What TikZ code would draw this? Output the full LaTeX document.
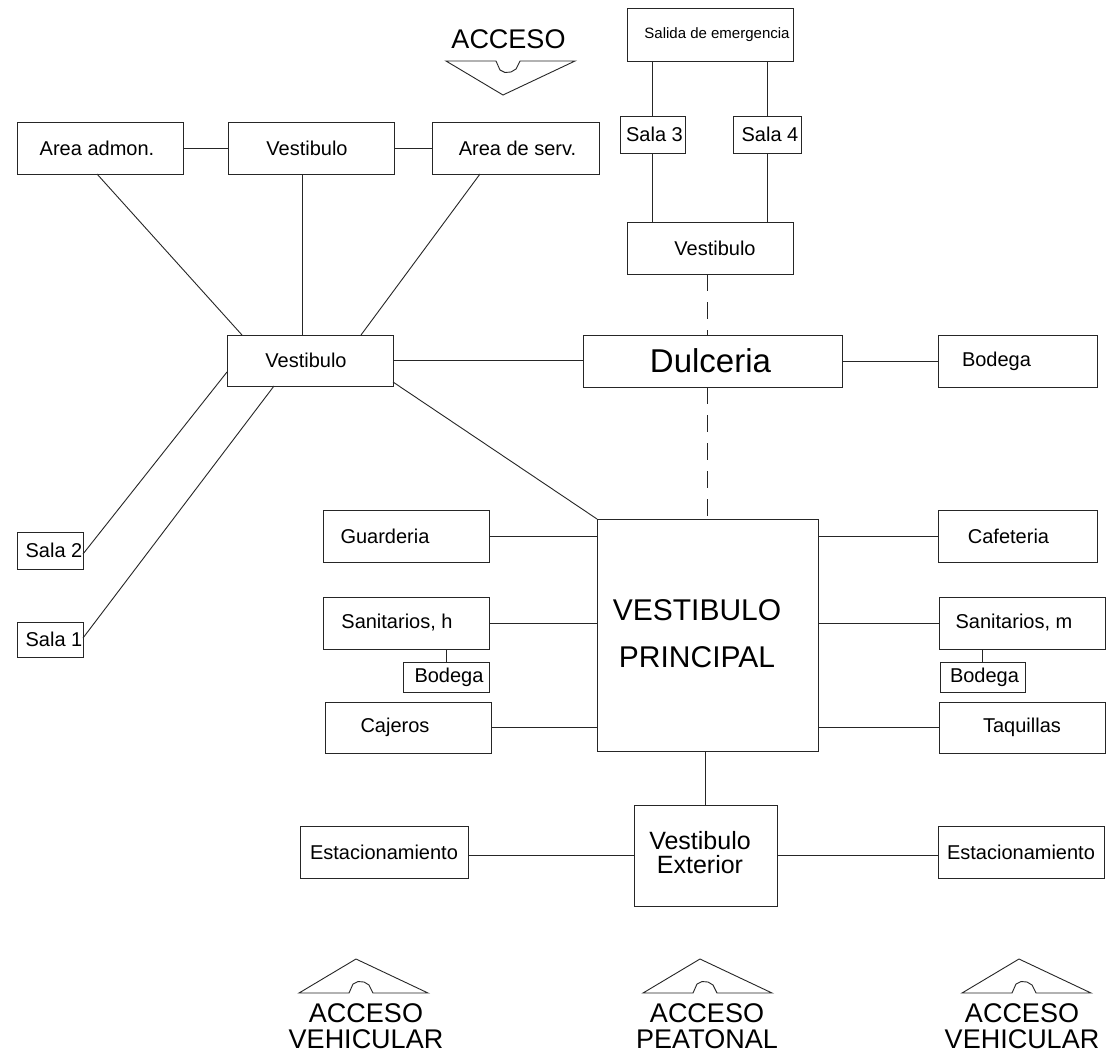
\documentclass[tikz,border=0pt]{standalone}
\usepackage{fontspec}
\setmainfont{Liberation Sans}

\tikzset{
  box/.style={draw=black!85, line width=0.9pt, fill=white, inner sep=0pt, outer sep=0pt,
    font=\fontsize{20}{24}\selectfont, minimum width=166pt, minimum height=52pt},
  % horizontal nudge of a box's text by #1
  tx/.style={execute at begin node={\hspace*{#1}\hspace*{#1}}},
  link/.style={draw=black!85, line width=0.9pt},
  dlink/.style={link, dash pattern=on 17pt off 11pt},
  bigtext/.style={font=\fontsize{27}{26}\selectfont, inner sep=0pt},
  % access symbol: a roof with a small arch in its base
  accesomark/.pic={
    \draw[link, line join=miter] (0,0) -- (50,0) -- (54,-9) -- (59,-11.5) -- (65,-11)
      -- (70,-8) -- (74,0) -- (129,0) -- (57,-34) -- cycle;
  }
}

\begin{document}
\begin{tikzpicture}[x=1pt, y=-1pt]
\fill[white] (0,0) rectangle (1114,1061);
\useasboundingbox (0,0) rectangle (1114,1061);

% upper right wing
\node[box, minimum height=53pt, font=\fontsize{15}{18}\selectfont, tx=7pt] (salida) at (710,34.5) {Salida de emergencia};
\node[box, minimum width=65pt, minimum height=37pt, tx=2pt] (sala3) at (652.5,134.5) {Sala 3};
\node[box, minimum width=68pt, minimum height=37pt, tx=3pt] (sala4) at (767,134.5) {Sala 4};
\node[box, tx=5pt] (vestTR) at (710,248) {Vestibulo};
\node[box, minimum width=259pt, font=\fontsize{33}{40}\selectfont, tx=-2pt] (dulceria) at (712.5,361) {Dulceria};
\node[box, minimum width=159pt, tx=-21pt] (bodegaTR) at (1017.5,361) {Bodega};

% upper left wing
\node[box, tx=-3pt] (areaAdm) at (100,148) {Area admon.};
\node[box, tx=-4pt] (vestT) at (311,148) {Vestibulo};
\node[box, minimum width=167pt, tx=2pt] (areaServ) at (515.5,148) {Area de serv.};
\node[box, minimum height=51pt, tx=-4pt] (vestM) at (310,360.5) {Vestibulo};
\node[box, minimum width=66pt, minimum height=37pt, tx=4pt] (sala2) at (50,550.5) {Sala 2};
\node[box, minimum width=66pt, minimum height=35pt, tx=4pt] (sala1) at (50,639.5) {Sala 1};

% main hall and its rooms
\node[box, minimum width=221pt, minimum height=232pt, font=\fontsize{30}{47}\selectfont, tx=-10.5pt] (vp) at (707.5,635)
  {\begin{tabular}{@{}c@{}}VESTIBULO\\PRINCIPAL\end{tabular}};
\node[box, tx=-21pt] (guard) at (406,536) {Guarderia};
\node[box, tx=-9pt] (sanH) at (406,623) {Sanitarios, h};
\node[box, minimum width=86pt, minimum height=30pt, tx=3pt] (bodH) at (446,677) {Bodega};
\node[box, minimum height=51pt, tx=-13pt] (cajeros) at (408,727.5) {Cajeros};
\node[box, minimum width=159pt, tx=-9pt] (cafe) at (1017.5,536) {Cafeteria};
\node[box, tx=-8pt] (sanM) at (1022,623) {Sanitarios, m};
\node[box, minimum width=85pt, minimum height=30pt, tx=2pt] (bodM) at (982.5,677) {Bodega};
\node[box, minimum height=51pt] (taq) at (1022,727.5) {Taquillas};

% entrance level
\node[box, minimum width=143pt, minimum height=101pt, font=\fontsize{25}{21}\selectfont, tx=-5.5pt] (vext) at (705.5,855.5)
  {\begin{tabular}{@{}c@{}}Vestibulo\\Exterior\end{tabular}};
\node[box, minimum width=168pt] (estL) at (384,852) {Estacionamiento};
\node[box] (estR) at (1021,852) {Estacionamiento};

% connectors
\draw[link] (salida.south -| sala3.north) -- (sala3.north);
\draw[link] (salida.south -| sala4.north) -- (sala4.north);
\draw[link] (sala3.south) -- (sala3.south |- vestTR.north);
\draw[link] (sala4.south) -- (sala4.south |- vestTR.north);
\draw[dlink] (vestTR.south -| vp.north) -- (dulceria.north -| vp.north);
\draw[dlink] (dulceria.south -| vp.north) -- (vp.north);
\draw[link] (dulceria.east) -- (bodegaTR.west);
\draw[link] (vestM.east) -- (vestM.east -| dulceria.west);
\draw[link] ([yshift=4pt]vestM.south east) -- (vp.north west);

\draw[link] (areaAdm.east) -- (vestT.west);
\draw[link] (vestT.east) -- (areaServ.west);
\draw[link] ([xshift=-3pt]areaAdm.south) -- ([xshift=15pt]vestM.north west);
\draw[link] ([xshift=-9pt]vestT.south) -- ([xshift=-9pt]vestT.south |- vestM.north);
\draw[link] ([xshift=-35.5pt]areaServ.south) -- ([xshift=51pt]vestM.north);
\draw[link] ([yshift=-11.5pt]vestM.west) -- ([yshift=-3.5pt]sala2.east);
\draw[link] ([xshift=-36pt]vestM.south) -- ([yshift=1.5pt]sala1.east);

\draw[link] (guard.east) -- (guard.east -| vp.west);
\draw[link] (sanH.east) -- (sanH.east -| vp.west);
\draw[link] (cajeros.east) -- (cajeros.east -| vp.west);
\draw[link] (sanH.south -| bodH.north) -- (bodH.north);
\draw[link] (cafe.west) -- (cafe.west -| vp.east);
\draw[link] (sanM.west) -- (sanM.west -| vp.east);
\draw[link] (taq.west) -- (taq.west -| vp.east);
\draw[link] (sanM.south -| bodM.north) -- (bodM.north);

\draw[link] (vp.south -| vext.north) -- (vext.north);
\draw[link] (vext.west) -- (vext.west -| estL.east);
\draw[link] (vext.east) -- (vext.east -| estR.west);

% access symbols
\node[bigtext, anchor=base] (accTop) at (508.5,48) {ACCESO};
\pic[yscale=-1] at (446,61) {accesomark};

\pic at (299,993) {accesomark};
\pic at (643,993) {accesomark};
\pic at (962,993) {accesomark};
\node[bigtext] (accVehL) at (366,1029.8) {\begin{tabular}{@{}c@{}}ACCESO\\VEHICULAR\end{tabular}};
\node[bigtext] (accPeat) at (707,1029.8) {\begin{tabular}{@{}c@{}}ACCESO\\PEATONAL\end{tabular}};
\node[bigtext] (accVehR) at (1022,1029.8) {\begin{tabular}{@{}c@{}}ACCESO\\VEHICULAR\end{tabular}};
\end{tikzpicture}
\end{document}
